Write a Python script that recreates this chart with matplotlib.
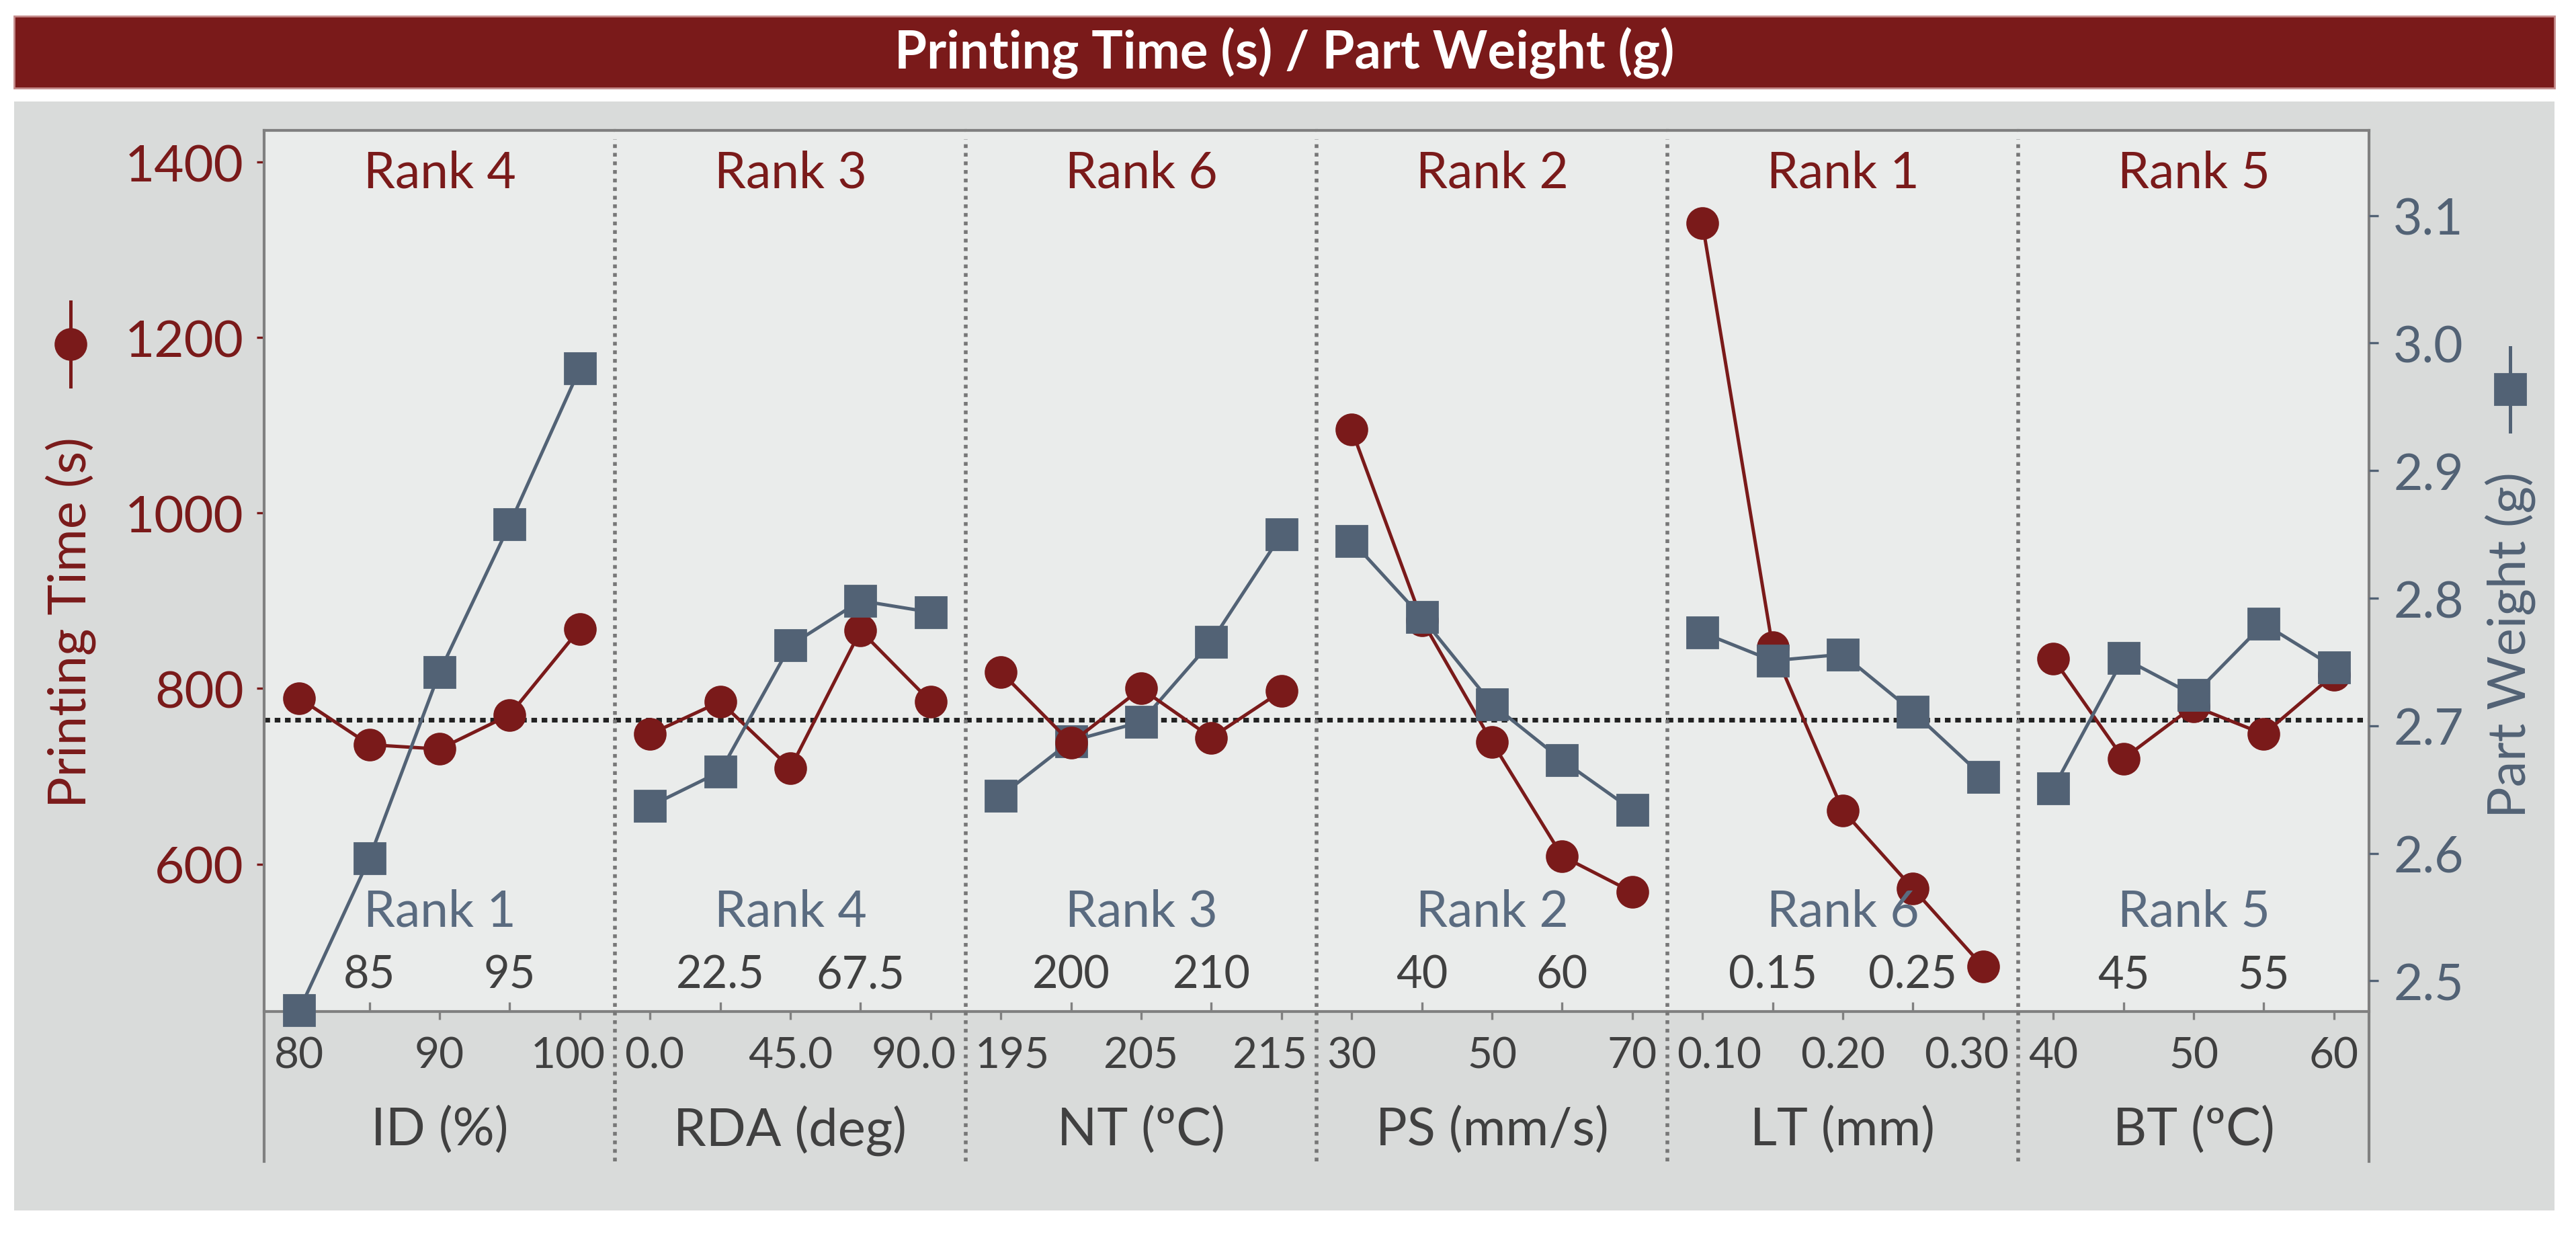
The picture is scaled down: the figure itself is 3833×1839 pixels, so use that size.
import matplotlib.pyplot as plt
from matplotlib.patches import Rectangle
from matplotlib.lines import Line2D
from matplotlib.transforms import Affine2D

plt.rcParams['font.family'] = ['Lato', 'DejaVu Sans']

W, H, DPI = 3833, 1840, 200

RED = '#7a1a1a'
BLUE = '#526275'
BLUE_TXT = '#5a6b80'
TICK = '#404040'
SPINE = '#808080'
PANEL = '#eaeceb'
BACK = '#d9dbda'

# factors and their levels
factors = ["ID (%)", "RDA (deg)", "NT (\u00baC)", "PS (mm/s)", "LT (mm)", "BT (\u00baC)"]
levels = [
    [80, 85, 90, 95, 100],
    [0.0, 22.5, 45.0, 67.5, 90.0],
    [195, 200, 205, 210, 215],
    [30, 40, 50, 60, 70],
    [0.10, 0.15, 0.20, 0.25, 0.30],
    [40, 45, 50, 55, 60],
]

# mean printing time (s) per level
time_id = [789, 736, 731, 770, 868]
time_rda = [748, 785, 709, 866, 785]
time_nt = [819, 738, 800, 744, 797]
time_ps = [1095, 878, 739, 609, 568]
time_lt = [1330, 847, 661, 572, 483]
time_bt = [834, 720, 780, 748, 816]

# mean part weight (g) per level
weight_id = [2.477, 2.596, 2.742, 2.858, 2.980]
weight_rda = [2.637, 2.664, 2.763, 2.798, 2.789]
weight_nt = [2.645, 2.688, 2.703, 2.766, 2.850]
weight_ps = [2.845, 2.785, 2.717, 2.673, 2.634]
weight_lt = [2.773, 2.751, 2.756, 2.711, 2.660]
weight_bt = [2.651, 2.753, 2.724, 2.780, 2.746]

times = [time_id, time_rda, time_nt, time_ps, time_lt, time_bt]
weights = [weight_id, weight_rda, weight_nt, weight_ps, weight_lt, weight_bt]

time_ranks = ["Rank 4", "Rank 3", "Rank 6", "Rank 2", "Rank 1", "Rank 5"]
weight_ranks = ["Rank 1", "Rank 4", "Rank 3", "Rank 2", "Rank 6", "Rank 5"]

major_ticks = [[80, 90, 100], [0, 45, 90], [195, 205, 215], [30, 50, 70], [0.10, 0.20, 0.30], [40, 50, 60]]
major_labels = [["80", "90", "100"], ["0.0", "45.0", "90.0"], ["195", "205", "215"],
                ["30", "50", "70"], ["0.10", "0.20", "0.30"], ["40", "50", "60"]]
minor_ticks = [[85, 95], [22.5, 67.5], [200, 210], [40, 60], [0.15, 0.25], [45, 55]]
minor_labels = [["85", "95"], ["22.5", "67.5"], ["200", "210"], ["40", "60"], ["0.15", "0.25"], ["45", "55"]]

time_ticks = [600, 800, 1000, 1200, 1400]
weight_ticks = [2.5, 2.6, 2.7, 2.8, 2.9, 3.0, 3.1]
weight_ticklabels = ["2.5", "2.6", "2.7", "2.8", "2.9", "3.0", "3.1"]
ref_line = 764  # dotted reference line, printing-time scale
red_on_top = [False, False, True, False, False, False]

TIME_LIM = (431.9, 1436)
WEIGHT_LIM = (2.476, 3.1667)


def fx(px):
    return px / W


def fy(py):
    return 1 - py / H


fig = plt.figure(figsize=(W / DPI, H / DPI), dpi=DPI)
fig.patch.set_facecolor('white')

# title bar and grey frame
fig.patches.append(Rectangle((fx(21), fy(132)), (3801 - 21) / W, (132 - 25) / H,
                             transform=fig.transFigure, facecolor=RED,
                             edgecolor='#c48a8a', lw=1, zorder=-10))
fig.patches.append(Rectangle((fx(21), fy(1802)), (3801 - 21) / W, (1802 - 152) / H,
                             transform=fig.transFigure, facecolor=BACK,
                             edgecolor='none', zorder=-10))
fig.text(fx(1911), fy(79), "Printing Time (s) / Part Weight (g)", color='white',
         fontsize=28, fontweight='bold', ha='center', va='center')

left, right, top, bottom = 393, 3525, 195, 1506
pw = (right - left) / 6
ext = -(1729 - bottom) / (bottom - top)

axes = []
for i in range(6):
    ax = fig.add_axes([fx(left + i * pw), fy(bottom), pw / W, (bottom - top) / H])
    ax.set_facecolor(PANEL)
    ax2 = ax.twinx()
    axes.append(ax)

    x = levels[i]
    rng = x[-1] - x[0]

    ax.axhline(ref_line, color='#222222', lw=2.5, ls=(0, (1.2, 1.0)), zorder=1)
    zr, zb = (4, 3) if red_on_top[i] else (3, 4)
    ax.plot(x, times[i], color=RED, lw=1.8, marker='o', ms=16.5, clip_on=False, zorder=zr)
    ax.plot(x, weights[i], color=BLUE, lw=1.8, marker='s', ms=16.5, clip_on=False,
            transform=ax2.transData, zorder=zb)

    ax.set_xlim(x[0] - rng / 8, x[-1] + rng / 8)
    ax.set_ylim(*TIME_LIM)
    ax2.set_ylim(*WEIGHT_LIM)

    # x ticks: main values below the axis, in-between values inside
    ax.set_xticks(major_ticks[i])
    ax.set_xticklabels(major_labels[i])
    ax.set_xticks(minor_ticks[i], minor=True)
    ax.set_xticklabels(minor_labels[i], minor=True)
    ax.tick_params(axis='x', which='major', direction='out', length=4.3, width=1.2,
                   color=SPINE, labelsize=23, labelcolor=TICK, pad=9)
    ax.tick_params(axis='x', which='minor', direction='in', length=5, width=1.2,
                   color=SPINE, labelsize=24, labelcolor=TICK, pad=-8.6)
    for t in ax.xaxis.get_minor_ticks():
        t.label1.set_verticalalignment('bottom')

    ax.set_xlabel(factors[i], fontsize=28, color=TICK)
    ax.xaxis.set_label_coords(0.5, (bottom - 1682) / (bottom - top))
    ax.xaxis.label.set_verticalalignment('center')

    if i == 0:
        ax.set_yticks(time_ticks)
        ax.tick_params(axis='y', direction='out', length=4, width=1.2, color=RED,
                       labelcolor=RED, labelsize=27.5, pad=7)
    else:
        ax.tick_params(axis='y', left=False, labelleft=False)
    if i == 5:
        ax2.set_yticks(weight_ticks)
        ax2.set_yticklabels(weight_ticklabels)
        ax2.tick_params(axis='y', direction='out', length=5, width=1.2, color=BLUE,
                        labelcolor=BLUE, labelsize=27, pad=8)
    else:
        ax2.tick_params(axis='y', right=False, labelright=False)

    for a in (ax, ax2):
        for s in ('left', 'right'):
            a.spines[s].set_visible(False)
    for s in ('top', 'bottom'):
        ax.spines[s].set_color(SPINE)
        ax.spines[s].set_linewidth(1.5)
        ax2.spines[s].set_visible(False)

    # panel borders reaching down into the label strip
    if i == 0:
        ax.plot([0, 0], [ext, 1], transform=ax.transAxes, color=SPINE, lw=1.5,
                clip_on=False, zorder=5)
    else:
        ax.plot([0, 0], [ext, 0.99], transform=ax.transAxes, color='#777777', lw=2,
                ls=(0, (1, 1.3)), clip_on=False, zorder=5)
    if i == 5:
        ax.plot([1, 1], [ext, 1], transform=ax.transAxes, color=SPINE, lw=1.5,
                clip_on=False, zorder=5)

    ax.text(0.5, (bottom - 258) / (bottom - top), time_ranks[i], transform=ax.transAxes,
            ha='center', va='center', color=RED, fontsize=27)
    ax.text(0.5, (bottom - 1357) / (bottom - top), weight_ranks[i], transform=ax.transAxes,
            ha='center', va='center', color=BLUE_TXT, fontsize=27)

# axis titles with their series symbol
fig.text(fx(105), fy(926), "Printing Time (s)", rotation=90, ha='center', va='center',
         color=RED, fontsize=28)
fig.add_artist(Line2D([fx(105), fx(105)], [fy(450), fy(576)], transform=fig.transFigure,
                      color=RED, lw=1.8))
fig.add_artist(Line2D([fx(105)], [fy(513)], transform=fig.transFigure, color=RED,
                      marker='o', ms=16.5))
fig.text(fx(3735), fy(960), "Part Weight (g)", rotation=90, ha='center', va='center',
         color=BLUE, fontsize=28)
fig.add_artist(Line2D([fx(3735), fx(3735)], [fy(518), fy(643)], transform=fig.transFigure,
                      color=BLUE, lw=1.8))
fig.add_artist(Line2D([fx(3735)], [fy(580)], transform=fig.transFigure, color=BLUE,
                      marker='s', ms=16.5))

# keep the outer bottom labels of each panel inside their panel
fig.canvas.draw()
renderer = fig.canvas.get_renderer()
for k, ax in enumerate(axes):
    box = ax.get_window_extent(renderer)
    ticks = ax.xaxis.get_major_ticks()
    if k < len(axes) - 1:
        lbl = ticks[-1].label1
        over = lbl.get_window_extent(renderer).x1 - (box.x1 - 14)
        if over > 0:
            lbl.set_transform(lbl.get_transform() + Affine2D().translate(-over, 0))
    if k > 0:
        lbl = ticks[0].label1
        over = (box.x0 + 14) - lbl.get_window_extent(renderer).x0
        if over > 0:
            lbl.set_transform(lbl.get_transform() + Affine2D().translate(over, 0))

fig.savefig('out.png', dpi=DPI)
